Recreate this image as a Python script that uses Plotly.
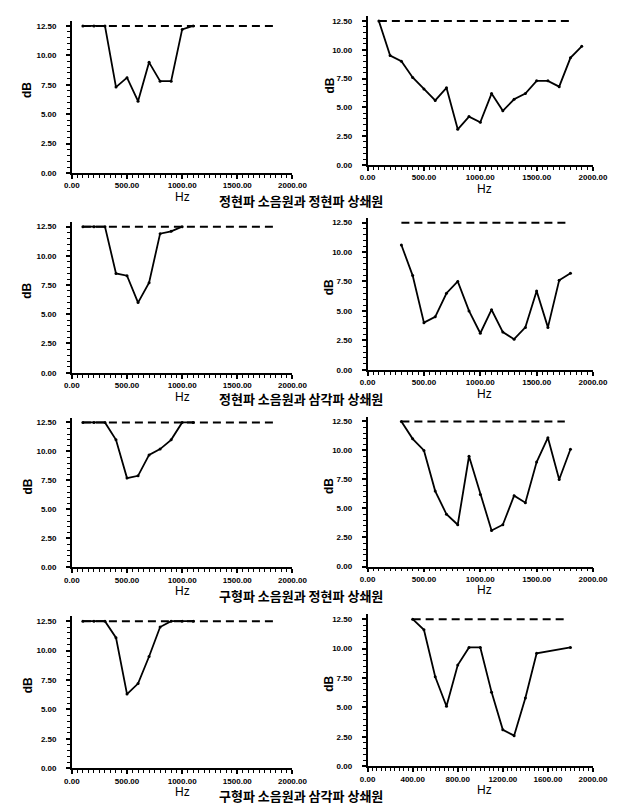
import plotly.graph_objects as go

W, H = 626, 804

# ---- data (Hz, dB) ----
p1_hz = [100, 200, 300, 400, 500, 600, 700, 800, 900, 1000, 1100]
p1_db = [12.5, 12.5, 12.5, 7.3, 8.1, 6.1, 9.4, 7.8, 7.8, 12.2, 12.5]
p1_ref = [100, 1850]

p2_hz = [100, 200, 300, 400, 500, 600, 700, 800, 900, 1000, 1100, 1200, 1300, 1400, 1500, 1600, 1700, 1800, 1900]
p2_db = [12.5, 9.5, 9.0, 7.6, 6.6, 5.6, 6.7, 3.1, 4.2, 3.7, 6.2, 4.7, 5.7, 6.2, 7.3, 7.3, 6.8, 9.3, 10.3]
p2_ref = [100, 1820]

p3_hz = [100, 200, 300, 400, 500, 600, 700, 800, 900, 1000]
p3_db = [12.5, 12.5, 12.5, 8.5, 8.3, 6.0, 7.7, 11.9, 12.1, 12.5]
p3_ref = [100, 1850]

p4_hz = [300, 400, 500, 600, 700, 800, 900, 1000, 1100, 1200, 1300, 1400, 1500, 1600, 1700, 1800]
p4_db = [10.6, 8.0, 4.0, 4.5, 6.5, 7.5, 5.0, 3.1, 5.1, 3.2, 2.6, 3.6, 6.7, 3.6, 7.6, 8.2]
p4_ref = [300, 1760]

p5_hz = [100, 200, 300, 400, 500, 600, 700, 800, 900, 1000, 1100]
p5_db = [12.5, 12.5, 12.5, 11.0, 7.7, 7.9, 9.7, 10.2, 11.0, 12.5, 12.5]
p5_ref = [100, 1860]

p6_hz = [300, 400, 500, 600, 700, 800, 900, 1000, 1100, 1200, 1300, 1400, 1500, 1600, 1700, 1800]
p6_db = [12.5, 11.0, 10.0, 6.5, 4.5, 3.6, 9.5, 6.2, 3.1, 3.6, 6.1, 5.5, 9.0, 11.1, 7.5, 10.1]
p6_ref = [300, 1750]

p7_hz = [100, 200, 300, 400, 500, 600, 700, 800, 900, 1000, 1100]
p7_db = [12.5, 12.5, 12.5, 11.1, 6.3, 7.2, 9.5, 12.0, 12.5, 12.5, 12.5]
p7_ref = [100, 1860]

p8_hz = [400, 500, 600, 700, 800, 900, 1000, 1100, 1200, 1300, 1400, 1500, 1800]
p8_db = [12.5, 11.6, 7.6, 5.1, 8.6, 10.1, 10.1, 6.3, 3.1, 2.6, 5.8, 9.6, 10.1]
p8_ref = [400, 1750]

ref_level = 12.5

captions = ["정현파 소음원과 정현파 상쇄원", "정현파 소음원과 삼각파 상쇄원",
            "구형파 소음원과 정현파 상쇄원", "구형파 소음원과 삼각파 상쇄원"]

panels = [
    (p1_hz, p1_db, p1_ref, 500),
    (p2_hz, p2_db, p2_ref, 500),
    (p3_hz, p3_db, p3_ref, 500),
    (p4_hz, p4_db, p4_ref, 500),
    (p5_hz, p5_db, p5_ref, 500),
    (p6_hz, p6_db, p6_ref, 500),
    (p7_hz, p7_db, p7_ref, 500),
    (p8_hz, p8_db, p8_ref, 400),
]

# ---- layout geometry (pixels) ----
col_x = [(58, 287), (365, 599)]
row_y = [(18, 166), (13, 158), (220, 367), (216, 364),
         (417, 563), (416, 562), (617, 765), (615, 763)]
YMAX = 12.9

fig = go.Figure()
tickfont = dict(family="Liberation Sans", size=8, color="black", weight="bold")

layout = dict(width=W, height=H, margin=dict(l=0, r=0, t=0, b=0),
              paper_bgcolor="white", plot_bgcolor="white", showlegend=False,
              annotations=[])

for i, (hz, db, ref, dt) in enumerate(panels):
    n = i + 1
    xs = "x" if n == 1 else f"x{n}"
    ys = "y" if n == 1 else f"y{n}"
    xl, xr = col_x[i % 2]
    y125, y0 = row_y[i]
    ytop = y0 - (y0 - y125) * YMAX / 12.5
    fig.add_trace(go.Scatter(x=ref, y=[ref_level, ref_level], xaxis=xs, yaxis=ys,
                             mode="lines", line=dict(color="black", width=2, dash="8px,5px")))
    fig.add_trace(go.Scatter(x=hz, y=db, xaxis=xs, yaxis=ys, mode="lines+markers",
                             line=dict(color="black", width=1.8),
                             marker=dict(color="black", size=3)))
    xa = dict(domain=[xl / W, xr / W], range=[0, 2000], anchor=ys,
              showline=True, linecolor="black", linewidth=1.6, showgrid=False, zeroline=False,
              tickmode="linear", tick0=0, dtick=dt, tickformat=".2f", ticks="outside",
              ticklen=4, tickwidth=1.5, tickcolor="black", tickfont=tickfont,
              minor=dict(tickmode="linear", tick0=0, dtick=dt / 10, ticks="outside",
                         ticklen=3, tickwidth=1.4, tickcolor="black", showgrid=False))
    ya = dict(domain=[1 - y0 / H, 1 - ytop / H], range=[0, YMAX], anchor=xs,
              showline=True, linecolor="black", linewidth=1.6, showgrid=False, zeroline=False,
              tickmode="linear", tick0=0, dtick=2.5, tickformat=".2f", ticks="outside",
              ticklen=4, tickwidth=1.5, tickcolor="black", tickfont=tickfont,
              ticklabelstandoff=8,
              minor=dict(tickmode="linear", tick0=0, dtick=0.5, ticks="outside",
                         ticklen=3, tickwidth=1.4, tickcolor="black", showgrid=False))
    layout["xaxis" if n == 1 else f"xaxis{n}"] = xa
    layout["yaxis" if n == 1 else f"yaxis{n}"] = ya
    # Hz label
    hx = 173 if i % 2 == 0 else 486
    layout["annotations"].append(dict(
        x=hx / W, y=1 - (y0 + 24) / H, xref="paper", yref="paper", text="Hz",
        showarrow=False, font=dict(family="Liberation Sans", size=12, color="black"),
        xanchor="center", yanchor="middle"))
    # dB label
    dx = 12 if i % 2 == 0 else 325
    layout["annotations"].append(dict(
        x=dx / W, y=1 - (y125 + 65) / H, xref="paper", yref="paper", text="dB",
        showarrow=False, textangle=-90,
        font=dict(family="Liberation Sans", size=12, color="black", weight="bold"),
        xanchor="center", yanchor="middle"))

cap_y = [194, 393, 591, 792]
for cap, cy in zip(captions, cap_y):
    layout["annotations"].append(dict(
        x=296 / W, y=1 - cy / H, xref="paper", yref="paper", text=cap, showarrow=False,
        font=dict(family="Noto Sans CJK KR", size=13, color="black", weight="bold"),
        xanchor="center", yanchor="middle"))

fig.update_layout(**layout)
fig.write_html("out.html")
